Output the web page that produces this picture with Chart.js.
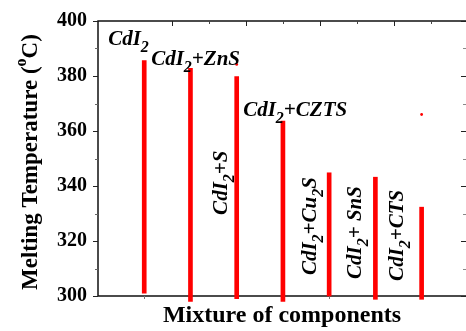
<!DOCTYPE html>
<html>
<head>
<meta charset="utf-8">
<script src="https://cdn.jsdelivr.net/npm/chart.js@4.4.1/dist/chart.umd.min.js"></script>
<style>
  html, body { margin: 0; padding: 0; background: #ffffff; }
  #wrap { width: 466px; height: 331px; }
</style>
</head>
<body>
<div id="wrap"><canvas id="c" width="466" height="331"></canvas></div>
<script>
// Mixtures (digits are drawn as subscripts) and their melting temperatures (°C)
const mixtures = ['CdI2', 'CdI2+ZnS', 'CdI2+S', 'CdI2+CZTS', 'CdI2+Cu2S', 'CdI2+ SnS', 'CdI2+CTS'];
const meltTop  = [385.6, 382.8, 379.8, 363.6, 344.8, 343.2, 332.3];
const meltBase = [301.0, 298.0, 299.0, 298.0, 300.0, 298.8, 298.8];
// isolated measurement points
const strayX = [3, 7];
const strayY = [384.2, 366.0];
// axis tick values
const yMajor = [300, 320, 340, 360, 380, 400];
const yMinor = [310, 330, 350, 370, 390];
const topMajor = [1.6, 3.2, 4.8, 6.4];
const topMinor = [2.4, 4.0, 5.6, 7.2];

const SERIF = "'Liberation Serif', 'Times New Roman', serif";

// where each mixture name sits, in data units (x, temperature); rot = reads bottom-to-top
const labelLayout = [
  { x: 0.22, y: 391.3, rot: false },
  { x: 1.15, y: 384.0, rot: false },
  { x: 2.79, y: 329.5, rot: true  },
  { x: 3.14, y: 365.5, rot: false },
  { x: 4.72, y: 307.6, rot: true  },
  { x: 5.69, y: 306.2, rot: true  },
  { x: 6.60, y: 305.5, rot: true  }
];

function splitFormula(s) {
  const parts = [];
  const re = /(\d+)|([^\d]+)/g;
  let m;
  while ((m = re.exec(s)) !== null) {
    parts.push({ t: m[0], sub: !!m[1] });
  }
  return parts;
}

function drawRich(ctx, parts, mainFont, subFont, subShift) {
  let cx = 0;
  parts.forEach(p => {
    ctx.font = p.sub ? subFont : mainFont;
    ctx.fillText(p.t, cx, p.sub ? subShift : 0);
    cx += ctx.measureText(p.t).width;
  });
}

const framePlugin = {
  id: 'frame',
  beforeDatasetsDraw(chart) {
    const { ctx, chartArea: a, scales: { x, y } } = chart;
    ctx.save();
    // axis lines (left, top, bottom)
    ctx.strokeStyle = '#111';
    ctx.lineWidth = 1.5;
    ctx.beginPath();
    ctx.moveTo(a.left, a.top); ctx.lineTo(a.right, a.top);
    ctx.moveTo(a.left, a.top - 0.75); ctx.lineTo(a.left, a.bottom + 0.75);
    ctx.moveTo(a.left, a.bottom); ctx.lineTo(a.right, a.bottom);
    ctx.stroke();

    ctx.lineWidth = 1;
    const hTick = (x0, x1, v, col) => {
      const py = Math.round(y.getPixelForValue(v)) + 0.5;
      ctx.strokeStyle = col;
      ctx.beginPath(); ctx.moveTo(x0, py); ctx.lineTo(x1, py); ctx.stroke();
    };
    const vTick = (y0, y1, v, col) => {
      const px = Math.round(x.getPixelForValue(v)) + 0.5;
      ctx.strokeStyle = col;
      ctx.beginPath(); ctx.moveTo(px, y0); ctx.lineTo(px, y1); ctx.stroke();
    };
    // left: outward
    yMajor.forEach(v => hTick(a.left - 5, a.left, v, '#222'));
    yMinor.forEach(v => hTick(a.left - 3, a.left, v, '#666'));
    // right: inward
    yMajor.forEach(v => hTick(a.right - 5, a.right, v, '#222'));
    yMinor.forEach(v => hTick(a.right - 3, a.right, v, '#888'));
    // top: inward
    topMajor.forEach(v => vTick(a.top, a.top + 5, v, '#222'));
    topMinor.forEach(v => vTick(a.top, a.top + 3, v, '#444'));
    // bottom: outward at each mixture
    mixtures.forEach((_, i) => vTick(a.bottom, a.bottom + 3, i + 1, '#777'));
    ctx.restore();
  },
  afterDatasetsDraw(chart) {
    const { ctx, scales: { x, y } } = chart;
    ctx.save();
    ctx.fillStyle = '#000';
    ctx.textBaseline = 'alphabetic';
    ctx.textAlign = 'left';
    const mainFont = 'italic bold 21px ' + SERIF;
    const subFont = 'italic bold 16px ' + SERIF;
    mixtures.forEach((name, i) => {
      const L = labelLayout[i];
      const px = x.getPixelForValue(L.x);
      const py = y.getPixelForValue(L.y);
      ctx.save();
      ctx.translate(px, py);
      if (L.rot) ctx.rotate(-Math.PI / 2);
      drawRich(ctx, splitFormula(name), mainFont, subFont, 7);
      ctx.restore();
    });

    // vertical axis title with superscript "o"
    ctx.save();
    ctx.translate(37, 290);
    ctx.rotate(-Math.PI / 2);
    const tf = 'bold 23px ' + SERIF;
    let cx = 0;
    const put = (t, f, dy) => {
      ctx.font = f;
      ctx.fillText(t, cx, dy);
      cx += ctx.measureText(t).width;
    };
    put('Melting Temperature ', tf, 0);
    put('(', tf, 0);
    put('o', 'bold 16px ' + SERIF, -11);
    put('C)', tf, 0);
    ctx.restore();
    ctx.restore();
  }
};

const barData = mixtures.map((_, i) => ({ x: i + 1, y: [meltBase[i], meltTop[i]] }));
const strayData = strayX.map((v, i) => ({ x: v, y: strayY[i] }));

new Chart(document.getElementById('c'), {
  type: 'bar',
  data: {
    datasets: [
      {
        type: 'bar',
        data: barData,
        backgroundColor: '#ff0000',
        borderWidth: 0,
        barThickness: 4,
        clip: false
      },
      {
        type: 'scatter',
        data: strayData,
        backgroundColor: '#ff0000',
        borderWidth: 0,
        pointRadius: 1.4,
        pointHoverRadius: 1.4
      }
    ]
  },
  options: {
    responsive: false,
    animation: false,
    devicePixelRatio: 1,
    layout: { autoPadding: false, padding: { top: 21, right: 0, left: 0, bottom: 0 } },
    plugins: { legend: { display: false }, tooltip: { enabled: false } },
    scales: {
      x: {
        type: 'linear',
        position: 'bottom',
        min: 0,
        max: 7.96,
        offset: false,
        grid: { display: false, offset: false },
        border: { display: false },
        ticks: { display: false },
        title: {
          display: true,
          text: 'Mixture of components',
          color: '#000',
          font: { family: SERIF, size: 24, weight: 'bold' },
          padding: { top: 0, bottom: 1 }
        },
        afterFit(scale) { scale.height = 35; }
      },
      y: {
        type: 'linear',
        position: 'left',
        min: 300,
        max: 400,
        grid: { display: false },
        border: { display: false },
        ticks: {
          stepSize: 20,
          padding: 3,
          color: '#000',
          font: { family: SERIF, size: 20, weight: 'bold' }
        },
        title: { display: false },
        afterFit(scale) { scale.width = 98; }
      }
    }
  },
  plugins: [framePlugin]
});
</script>
</body>
</html>
